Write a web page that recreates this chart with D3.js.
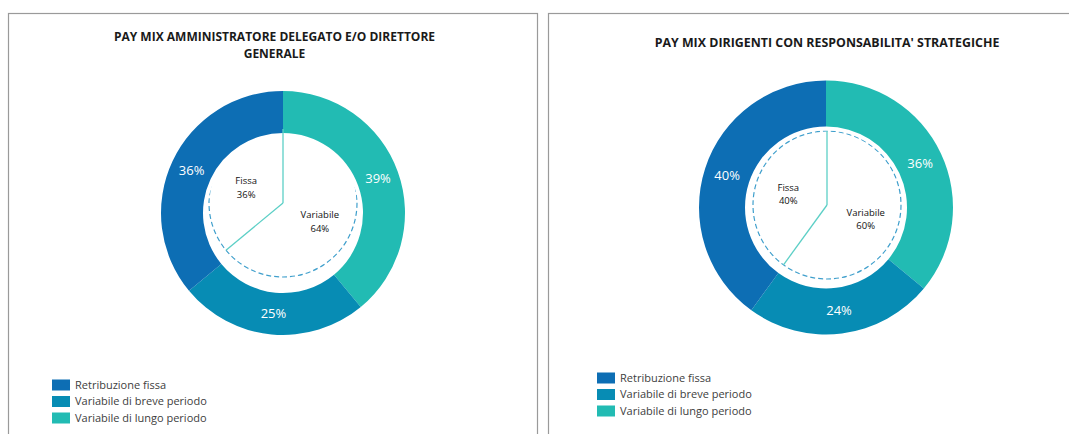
<!DOCTYPE html>
<html lang="it">
<head>
<meta charset="utf-8">
<script src="https://cdn.jsdelivr.net/npm/d3@7"></script>
<style>
  body { margin: 0; background: #fff; }
  svg { display: block; font-family: "Open Sans", sans-serif; }
</style>
</head>
<body>
<svg id="chart" width="1069" height="434"></svg>
<script>
// data
var categories = ["Retribuzione fissa", "Variabile di breve periodo", "Variabile di lungo periodo"];
var titlesCEO = ["PAY MIX AMMINISTRATORE DELEGATO E/O DIRETTORE", "GENERALE"];
var titlesDRS = ["PAY MIX DIRIGENTI CON RESPONSABILITA' STRATEGICHE"];
var valuesCEO = [36, 25, 39];
var valuesDRS = [40, 24, 36];
var innerCategories = ["Fissa", "Variabile"];
var innerCEO = [36, 64];
var innerDRS = [40, 60];

var colors = d3.scaleOrdinal().domain(categories).range(["#0d6eb4", "#078cb4", "#22bbb3"]);

var svg = d3.select("#chart");

var panels = [
  {x: 8, w: 529, titles: titlesCEO, titleY: 41, values: valuesCEO, inner: innerCEO,
   cx: 283, cy: 213, R: 122, hole: 80, px: 283, py: 203, pr: 74, legX: 52, legY: 385},
  {x: 548, w: 540, titles: titlesDRS, titleY: 47, values: valuesDRS, inner: innerDRS,
   cx: 826, cy: 207.5, R: 127, hole: 81, px: 827, py: 205, pr: 74, legX: 597, legY: 378}
];

var pie = d3.pie().sort(null).value(function(d){ return d.v; });

panels.forEach(function(p, pi){
  var g = svg.append("g");

  g.append("rect")
    .attr("x", p.x + 0.5).attr("y", 13.5)
    .attr("width", p.w).attr("height", 440)
    .attr("fill", "none").attr("stroke", "#9a9a9a").attr("stroke-width", 1.2);

  g.selectAll("text.title").data(p.titles).enter()
    .append("text").attr("class", "title")
    .attr("x", p.x + p.w / 2 + (pi == 0 ? 2 : 9))
    .attr("y", function(d, i){ return p.titleY + i * 17; })
    .attr("text-anchor", "middle")
    .attr("font-size", pi == 0 ? "12px" : "12.4px").attr("font-weight", "bold").attr("fill", "#1a1a1a")
    .text(function(d){ return d; });

  // outer ring, clockwise from top: lungo, breve, fissa
  var ringData = [2, 1, 0].map(function(i){ return {c: categories[i], v: p.values[i]}; });
  var arcs = pie(ringData);
  var arc = d3.arc().innerRadius(p.hole).outerRadius(p.R);
  var labelArc = d3.arc().innerRadius((p.hole + p.R) / 2).outerRadius((p.hole + p.R) / 2);

  var ring = g.append("g").attr("transform", "translate(" + p.cx + "," + p.cy + ")");
  ring.selectAll("path").data(arcs).enter()
    .append("path")
    .attr("d", arc)
    .attr("fill", function(d){ return colors(d.data.c); });
  ring.selectAll("text").data(arcs).enter()
    .append("text")
    .attr("transform", function(d){ return "translate(" + labelArc.centroid(d) + ")"; })
    .attr("text-anchor", "middle").attr("dy", "0.35em")
    .attr("font-size", "13px").attr("fill", "#fff")
    .text(function(d){ return d.data.v + "%"; });

  // inner pie: Variabile first, then Fissa
  var clipId = "clip" + pi;
  svg.append("clipPath").attr("id", clipId)
    .append("circle").attr("cx", p.cx - p.px).attr("cy", p.cy - p.py).attr("r", p.hole - 4);

  var innerData = [1, 0].map(function(i){ return {c: innerCategories[i], v: p.inner[i]}; });
  var innerArcs = pie(innerData);
  var inner = g.append("g").attr("transform", "translate(" + p.px + "," + p.py + ")");

  inner.append("g").attr("clip-path", "url(#" + clipId + ")")
    .append("circle")
    .attr("r", p.pr)
    .attr("fill", "none").attr("stroke", "#3f9fcc").attr("stroke-width", 1.2)
    .attr("stroke-dasharray", "5,3");

  inner.selectAll("line").data(innerArcs).enter()
    .append("line")
    .attr("x1", 0).attr("y1", 0)
    .attr("x2", function(d){ return Math.sin(d.startAngle) * p.pr; })
    .attr("y2", function(d){ return -Math.cos(d.startAngle) * p.pr; })
    .attr("stroke", "#5ccfc6").attr("stroke-width", 1.3);

  var innerLabel = d3.arc().innerRadius(p.pr * 0.55).outerRadius(p.pr * 0.55);
  var lbl = inner.selectAll("text").data(innerArcs).enter()
    .append("text")
    .attr("transform", function(d){ return "translate(" + innerLabel.centroid(d) + ")"; })
    .attr("text-anchor", "middle")
    .attr("font-size", "9.5px").attr("fill", "#111");
  lbl.append("tspan").attr("x", 0).attr("dy", "-0.2em").text(function(d){ return d.data.c; });
  lbl.append("tspan").attr("x", 0).attr("dy", "1.45em").text(function(d){ return d.data.v + "%"; });

  // legend
  var leg = g.append("g").attr("transform", "translate(" + p.legX + "," + p.legY + ")");
  var rows = leg.selectAll("g").data(categories).enter()
    .append("g")
    .attr("transform", function(d, i){ return "translate(0," + (i * 16.5) + ")"; });
  rows.append("rect")
    .attr("x", 0).attr("y", -5.5).attr("width", 18).attr("height", 11)
    .attr("fill", function(d){ return colors(d); });
  rows.append("text")
    .attr("x", 23).attr("dy", "0.35em")
    .attr("font-size", "11px").attr("fill", "#404040")
    .text(function(d){ return d; });
});
</script>
</body>
</html>
